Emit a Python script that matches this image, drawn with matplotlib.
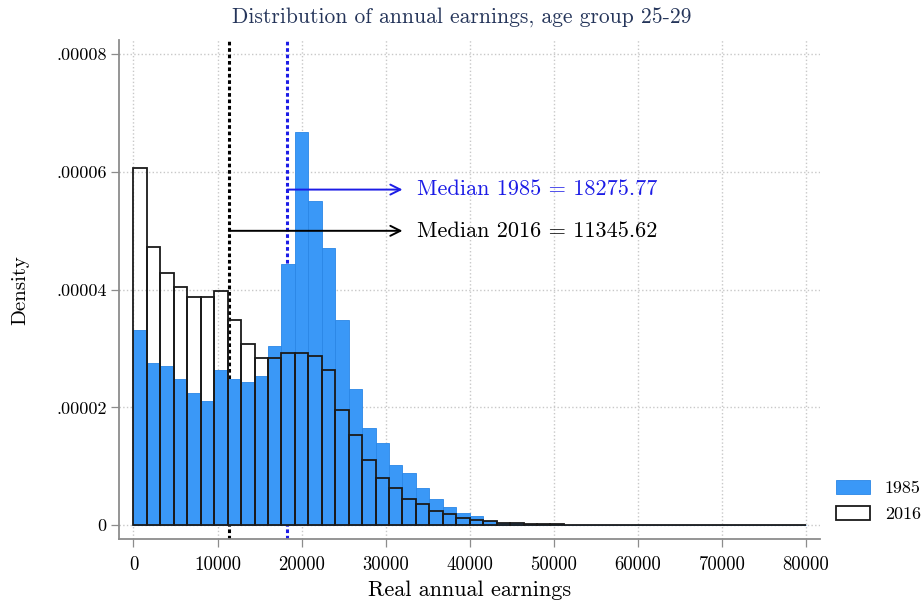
import matplotlib
matplotlib.use("Agg")
import matplotlib.pyplot as plt
import numpy as np

plt.rcParams['font.family'] = 'cmr10'
plt.rcParams['mathtext.fontset'] = 'cm'
plt.rcParams['axes.unicode_minus'] = False

# histogram densities (per unit of earnings), 50 bins of width 1600 from 0 to 80000
bin_width = 1600
bin_left = np.arange(0, 80000, bin_width)

dens_1985 = [3.32, 2.75, 2.70, 2.49, 2.24, 2.11, 2.64, 2.49, 2.44, 2.54,
             3.04, 4.43, 6.68, 5.51, 4.71, 3.48, 2.32, 1.65, 1.40, 1.02,
             0.895, 0.634, 0.453, 0.306, 0.204, 0.158, 0.079, 0.045, 0.04, 0.02,
             0.015, 0.01, 0, 0, 0, 0, 0, 0, 0, 0,
             0, 0, 0, 0, 0, 0, 0, 0, 0, 0]
dens_2016 = [6.07, 4.73, 4.29, 4.04, 3.88, 3.88, 3.97, 3.48, 3.07, 2.84,
             2.84, 2.92, 2.92, 2.87, 2.64, 1.96, 1.53, 1.115, 0.804, 0.634,
             0.448, 0.362, 0.249, 0.193, 0.125, 0.09, 0.068, 0.045, 0.04, 0.03,
             0.025, 0.02, 0, 0, 0, 0, 0, 0, 0, 0,
             0, 0, 0, 0, 0, 0, 0, 0, 0, 0]
dens_1985 = np.array(dens_1985) * 1e-5
dens_2016 = np.array(dens_2016) * 1e-5

median_1985 = 18275.77
median_2016 = 11345.62

xticks = [0, 10000, 20000, 30000, 40000, 50000, 60000, 70000, 80000]
yticks = [0, 0.00002, 0.00004, 0.00006, 0.00008]
ytick_labels = ['0', '.00002', '.00004', '.00006', '.00008']

blue_fill = '#3a98f7'
med_blue = '#1c1ce6'
axis_grey = '#8c8c8c'

fig = plt.figure(figsize=(9.23, 6.02), dpi=100)
ax = fig.add_axes([119 / 923, 1 - 539.3 / 602, (820 - 119) / 923, (539.3 - 40) / 602])

# medians sit behind the bars
ax.axvline(median_2016, color='black', lw=2.2, linestyle=(0, (1.2, 0.9)), zorder=1)
ax.axvline(median_1985, color=med_blue, lw=2.2, linestyle=(0, (1.2, 0.9)), zorder=1)

ax.bar(bin_left, dens_1985, width=bin_width, align='edge', color=blue_fill,
       edgecolor='#2a86e6', lw=0.6, zorder=2, label='1985')
ax.bar(bin_left, dens_2016, width=bin_width, align='edge', fill=False,
       edgecolor='#1a1a1a', lw=1.3, zorder=3, label='2016')

ax.annotate('', xy=(32000, 5.7e-5), xytext=(median_1985, 5.7e-5),
            arrowprops=dict(arrowstyle='->', color=med_blue, lw=1.4,
                            mutation_scale=18, shrinkA=0, shrinkB=0), zorder=4)
ax.annotate('', xy=(32000, 5.0e-5), xytext=(median_2016, 5.0e-5),
            arrowprops=dict(arrowstyle='->', color='black', lw=1.4,
                            mutation_scale=18, shrinkA=0, shrinkB=0), zorder=4)
ax.text(33700, 5.7e-5, 'Median 1985 = 18275.77', color=med_blue, fontsize=16,
        va='center', ha='left', zorder=5)
ax.text(33700, 5.0e-5, 'Median 2016 = 11345.62', color='black', fontsize=16,
        va='center', ha='left', zorder=5)

ax.set_xlim(-1725, 81670)
ax.set_ylim(-2.38e-6, 8.24e-5)
ax.set_xticks(xticks)
ax.set_xticklabels([str(t) for t in xticks])
ax.set_yticks(yticks)
ax.set_yticklabels(ytick_labels)
ax.grid(True, linestyle=':', color='#c8c8c8', lw=1.0, zorder=0)
ax.set_axisbelow(True)

for side in ['top', 'right']:
    ax.spines[side].set_visible(False)
for side in ['left', 'bottom']:
    ax.spines[side].set_color(axis_grey)
    ax.spines[side].set_linewidth(1.3)
ax.tick_params(axis='both', direction='out', length=6, width=0.9,
               color=axis_grey, labelsize=13, pad=3)
ax.tick_params(axis='x', pad=6, labelsize=13.5)

ax.set_xlabel('Real annual earnings', fontsize=16, labelpad=5)
ax.set_ylabel('Density', fontsize=15, labelpad=19)
fig.text(0.5, 1 - 18 / 602, 'Distribution of annual earnings, age group 25-29',
         ha='center', va='center', fontsize=15.5, color='#25355a')

fig.legend(loc='lower left', bbox_to_anchor=(836 / 923, 1 - 522 / 602),
           frameon=False, fontsize=13, handlelength=1.9, handleheight=0.8,
           handletextpad=0.8, labelspacing=0.55, borderpad=0, borderaxespad=0)

fig.savefig('out.png', dpi=100, facecolor='white')
